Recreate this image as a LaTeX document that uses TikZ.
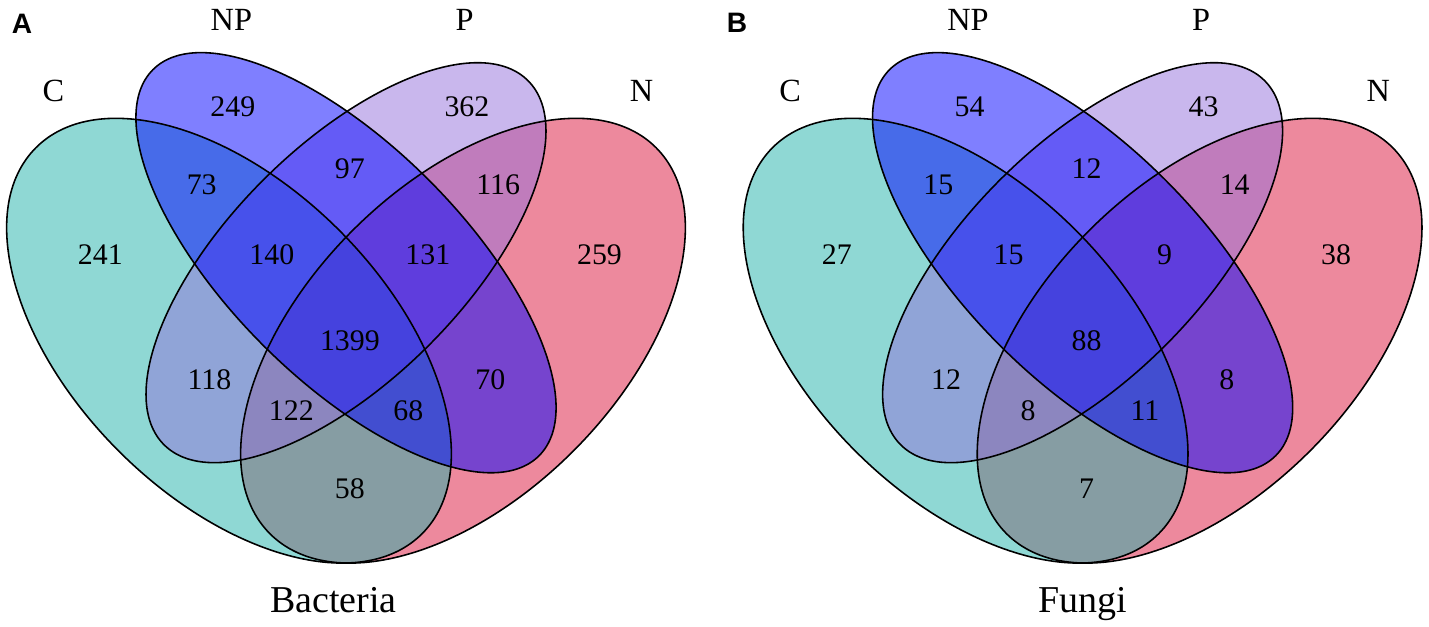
\documentclass[tikz,border=0pt]{standalone}
\usepackage{fontspec}
\setmainfont{Liberation Serif}
\newfontfamily\panelfont{Liberation Sans}

\definecolor{colC}{RGB}{32,178,170}
\definecolor{colNP}{RGB}{0,0,255}
\definecolor{colP}{RGB}{147,112,219}
\definecolor{colN}{RGB}{220,20,60}

\tikzset{
    count/.style={font=\fontsize{8.5}{10}\selectfont},
    setname/.style={font=\fontsize{9.2}{11}\selectfont},
    venntitle/.style={font=\fontsize{10.8}{12}\selectfont, anchor=base},
    panel/.style={font=\panelfont\bfseries\fontsize{8}{10}\selectfont},
    outline/.style={draw=black, line width=0.45pt},
}

\begin{document}
\begin{tikzpicture}
            \useasboundingbox (0,0) rectangle (14.29,6.26);

            \node[panel] (A) at (0.22,6.02) {A};
            \node[panel] (B) at (7.37,6.03) {B};

            % Bacteria
            \begin{scope}[shift={(-0.44,-0.813)}, scale=7.8]

                \fill[colN, fill opacity=0.5, rotate around={45:(0.65,0.47)}] (0.65,0.47) ellipse [x radius=0.35, y radius=0.2];
                \fill[colC, fill opacity=0.5, rotate around={135:(0.35,0.47)}] (0.35,0.47) ellipse [x radius=0.35, y radius=0.2];
                \fill[colP, fill opacity=0.5, rotate around={45:(0.5,0.57)}] (0.5,0.57) ellipse [x radius=0.33, y radius=0.15];
                \fill[colNP, fill opacity=0.5, rotate around={135:(0.5,0.57)}] (0.5,0.57) ellipse [x radius=0.35, y radius=0.15];

                \draw[outline, rotate around={45:(0.65,0.47)}] (0.65,0.47) ellipse [x radius=0.35, y radius=0.2];
                \draw[outline, rotate around={135:(0.35,0.47)}] (0.35,0.47) ellipse [x radius=0.35, y radius=0.2];
                \draw[outline, rotate around={45:(0.5,0.57)}] (0.5,0.57) ellipse [x radius=0.33, y radius=0.15];
                \draw[outline, rotate around={135:(0.5,0.57)}] (0.5,0.57) ellipse [x radius=0.35, y radius=0.15];

                \begin{scope}[every node/.style={setname}]
                    \node (aC) at (0.125,0.79) {C};
                    \node (aNP) at (0.353,0.881) {NP};
                    \node (aP) at (0.652,0.881) {P};
                    \node (aN) at (0.879,0.79) {N};
                \end{scope}

                \begin{scope}[every node/.style={count}]
                    \node (a1) at (0.355,0.77) {249};
                    \node (a2) at (0.505,0.69) {97};
                    \node (a3) at (0.655,0.77) {362};
                    \node (a4) at (0.315,0.67) {73};
                    \node (a5) at (0.405,0.58) {140};
                    \node (a6) at (0.505,0.47) {1399};
                    \node (a7) at (0.605,0.58) {131};
                    \node (a8) at (0.695,0.67) {116};
                    \node (a9) at (0.185,0.58) {241};
                    \node (a10) at (0.325,0.42) {118};
                    \node (a11) at (0.43,0.38) {122};
                    \node (a12) at (0.505,0.28) {58};
                    \node (a13) at (0.58,0.38) {68};
                    \node (a14) at (0.685,0.42) {70};
                    \node (a15) at (0.825,0.58) {259};
                \end{scope}

                \node[venntitle] (aTitle) at (0.484,0.122) {Bacteria};

            \end{scope}

            % Fungi
            \begin{scope}[shift={(6.926,-0.813)}, scale=7.8]

                \fill[colN, fill opacity=0.5, rotate around={45:(0.65,0.47)}] (0.65,0.47) ellipse [x radius=0.35, y radius=0.2];
                \fill[colC, fill opacity=0.5, rotate around={135:(0.35,0.47)}] (0.35,0.47) ellipse [x radius=0.35, y radius=0.2];
                \fill[colP, fill opacity=0.5, rotate around={45:(0.5,0.57)}] (0.5,0.57) ellipse [x radius=0.33, y radius=0.15];
                \fill[colNP, fill opacity=0.5, rotate around={135:(0.5,0.57)}] (0.5,0.57) ellipse [x radius=0.35, y radius=0.15];

                \draw[outline, rotate around={45:(0.65,0.47)}] (0.65,0.47) ellipse [x radius=0.35, y radius=0.2];
                \draw[outline, rotate around={135:(0.35,0.47)}] (0.35,0.47) ellipse [x radius=0.35, y radius=0.2];
                \draw[outline, rotate around={45:(0.5,0.57)}] (0.5,0.57) ellipse [x radius=0.33, y radius=0.15];
                \draw[outline, rotate around={135:(0.5,0.57)}] (0.5,0.57) ellipse [x radius=0.35, y radius=0.15];

                \begin{scope}[every node/.style={setname}]
                    \node (bC) at (0.125,0.79) {C};
                    \node (bNP) at (0.353,0.881) {NP};
                    \node (bP) at (0.652,0.881) {P};
                    \node (bN) at (0.879,0.79) {N};
                \end{scope}

                \begin{scope}[every node/.style={count}]
                    \node (b1) at (0.355,0.77) {54};
                    \node (b2) at (0.505,0.69) {12};
                    \node (b3) at (0.655,0.77) {43};
                    \node (b4) at (0.315,0.67) {15};
                    \node (b5) at (0.405,0.58) {15};
                    \node (b6) at (0.505,0.47) {88};
                    \node (b7) at (0.605,0.58) {9};
                    \node (b8) at (0.695,0.67) {14};
                    \node (b9) at (0.185,0.58) {27};
                    \node (b10) at (0.325,0.42) {12};
                    \node (b11) at (0.43,0.38) {8};
                    \node (b12) at (0.505,0.28) {7};
                    \node (b13) at (0.58,0.38) {11};
                    \node (b14) at (0.685,0.42) {8};
                    \node (b15) at (0.825,0.58) {38};
                \end{scope}

                \node[venntitle] (bTitle) at (0.5,0.122) {Fungi};

            \end{scope}

        \end{tikzpicture}
\end{document}
